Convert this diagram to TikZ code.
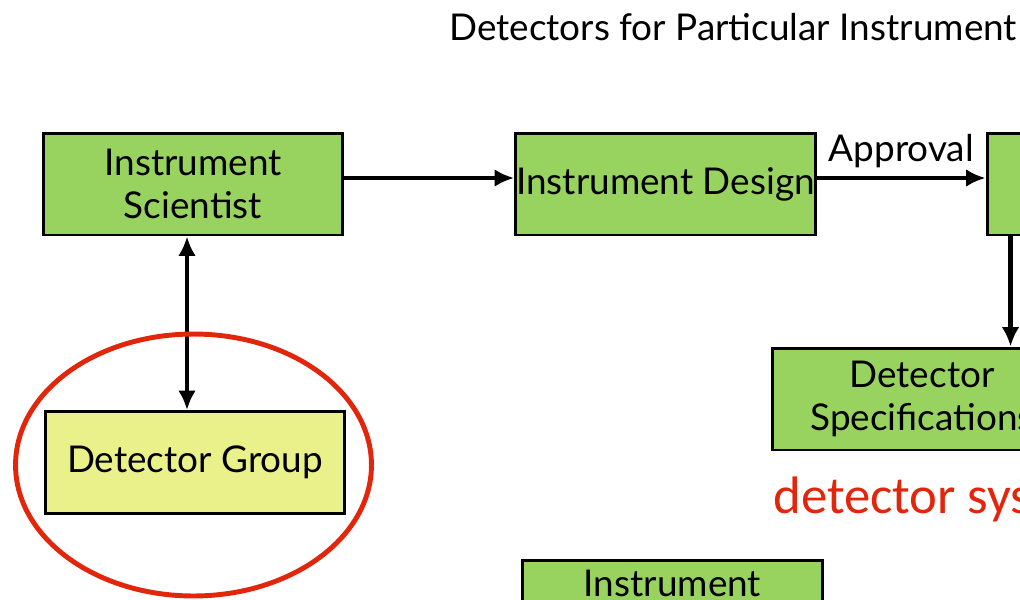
\documentclass[tikz,border=0pt]{standalone}
\usepackage{fontspec}
\setmainfont{Lato}
\newfontfamily\redfont{Carlito}
\usepackage{xcolor}
\usetikzlibrary{arrows, arrows.meta, calc, positioning}

\definecolor{boxgreen}{HTML}{98D35F}
\definecolor{boxyellow}{HTML}{EAF08A}
\definecolor{markred}{HTML}{E2260B}

\begin{document}
\begin{tikzpicture}[>={Latex[length=11pt, width=10pt]}, x=0.02cm, y=-0.02cm,
    gbox/.style={draw=black, line width=1.7pt, fill=boxgreen, minimum width=6cm,
        minimum height=2.04cm, align=center, inner sep=0pt,
        font=\fontsize{21}{24.5}\selectfont},
    ybox/.style={gbox, fill=boxyellow},
    link/.style={->, line width=2.6pt}]
        % Rahmen des Ausschnitts
        \useasboundingbox (0,0) rectangle (1020,599);
        \clip (0,0) rectangle (1020,599);
        
        % Titel oben
        \node[font=\fontsize{21}{24}\selectfont] (title) at (733,27) {Detectors for Particular Instrument};
        
        % Obere Reihe
        \node[gbox] (sci) at (193,184) {Instrument\\Scientist};
        \node[gbox] (design) at (665.5,184) {Instrument Design};
        \node[gbox] (approved) at (1137,184) {};
        
        % Spezifikationen und Gruppe
        \node[gbox] (spec) at (922,399) {Detector\\Specifications};
        \node[ybox] (group) at (195,462.5) {Detector Group};
        \node[gbox] (inst) at (672.5,611) {Instrument\\\strut};
        
        % Pfeile
        \draw[link] ([yshift=0.12cm]sci.east) -- ([yshift=0.12cm]sci.east -| design.west);
        \draw[link] ([yshift=0.12cm]design.east) -- ([yshift=0.12cm]design.east -| approved.west)
            node[midway, above=1pt, font=\fontsize{21}{24}\selectfont] (approval) {Approval};
        \draw[link] ([xshift=0.5cm]approved.south west) coordinate (down)
            -- (down |- spec.north);
        \draw[link, <->] ([xshift=-0.12cm]sci.south) coordinate (up)
            -- (up |- group.north);
        
        % Rote Markierung
        \draw[markred, line width=2.8pt] ([shift={(-1.5,2.5)}]group.center) ellipse [x radius=3.56cm, y radius=2.62cm];
        \node[markred, anchor=base west, inner sep=0pt, font=\redfont\fontsize{30}{34}\selectfont] (note) at (773,513) {detector sys};
        
    \end{tikzpicture}
\end{document}
